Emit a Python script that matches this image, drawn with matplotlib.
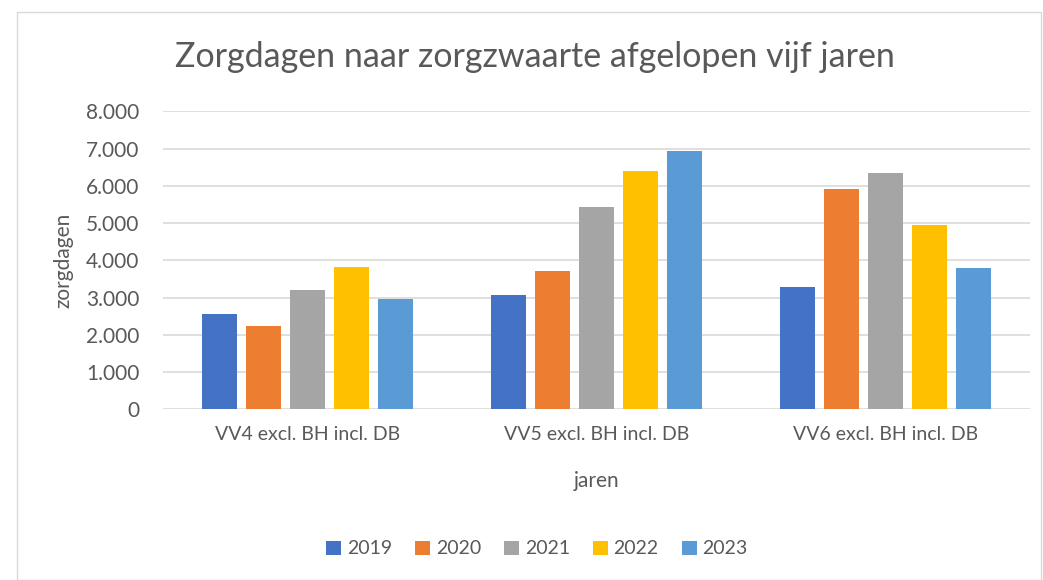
import matplotlib
matplotlib.use("Agg")
import matplotlib.pyplot as plt
import numpy as np
from matplotlib.ticker import FuncFormatter
from matplotlib.patches import Rectangle

categories = ["VV4 excl. BH incl. DB", "VV5 excl. BH incl. DB", "VV6 excl. BH incl. DB"]
years = ["2019", "2020", "2021", "2022", "2023"]
v2019 = [2550, 3060, 3290]
v2020 = [2230, 3705, 5905]
v2021 = [3195, 5425, 6345]
v2022 = [3820, 6395, 4950]
v2023 = [2970, 6935, 3795]
series = [v2019, v2020, v2021, v2022, v2023]
colors = ["#4472C4", "#ED7D31", "#A5A5A5", "#FFC000", "#5B9BD5"]
yticks = [0, 1000, 2000, 3000, 4000, 5000, 6000, 7000, 8000]

plt.rcParams['font.family'] = ['Lato', 'DejaVu Sans']
fig = plt.figure(figsize=(10.43, 5.8), dpi=100)
ax = fig.add_axes([163/1043, 1-409.3/580, (1030-163)/1043, (409.3-111.3)/580])

x = np.arange(len(categories))
step = 0.152
width = 0.12
for i, (vals, c, yr) in enumerate(zip(series, colors, years)):
    ax.bar(x + (i - 2) * step, vals, width=width, color=c, label=yr, zorder=3)

ax.set_xlim(-0.5, 2.5)
ax.set_ylim(0, 8000)
ax.set_yticks(yticks)
ax.yaxis.set_major_formatter(FuncFormatter(lambda v, p: f"{int(v):,}".replace(",", ".")))
ax.set_xticks(x)
ax.set_xticklabels(categories)
ax.grid(axis='y', color='#D9D9D9', linewidth=1.2, zorder=0)
for s in ax.spines.values():
    s.set_visible(False)
ax.tick_params(axis='x', length=0, labelsize=14, colors='#595959', pad=12)
ax.tick_params(axis='y', length=0, labelsize=15, colors='#595959', pad=17)
ax.set_ylabel("zorgdagen", fontsize=15, color='#595959', labelpad=9)
ax.set_xlabel("jaren", fontsize=15, color='#595959', labelpad=20)

fig.text(535/1043, 1-57/580, "Zorgdagen naar zorgzwaarte afgelopen vijf jaren",
         ha='center', va='center', fontsize=24.5, color='#595959')

leg = fig.legend(loc='center', bbox_to_anchor=(537/1043, 1-549/580), ncol=5, frameon=False,
                 fontsize=14, handlelength=0.75, handleheight=0.75, handletextpad=0.3,
                 columnspacing=1.2, labelcolor='#595959')

fig.patches.append(Rectangle((17/1043, 0), 1 - 17/1043 - 0.002, 1 - 12/580,
                             transform=fig.transFigure, fill=False,
                             edgecolor='#D9D9D9', linewidth=1))

fig.savefig("out.png", dpi=100)
